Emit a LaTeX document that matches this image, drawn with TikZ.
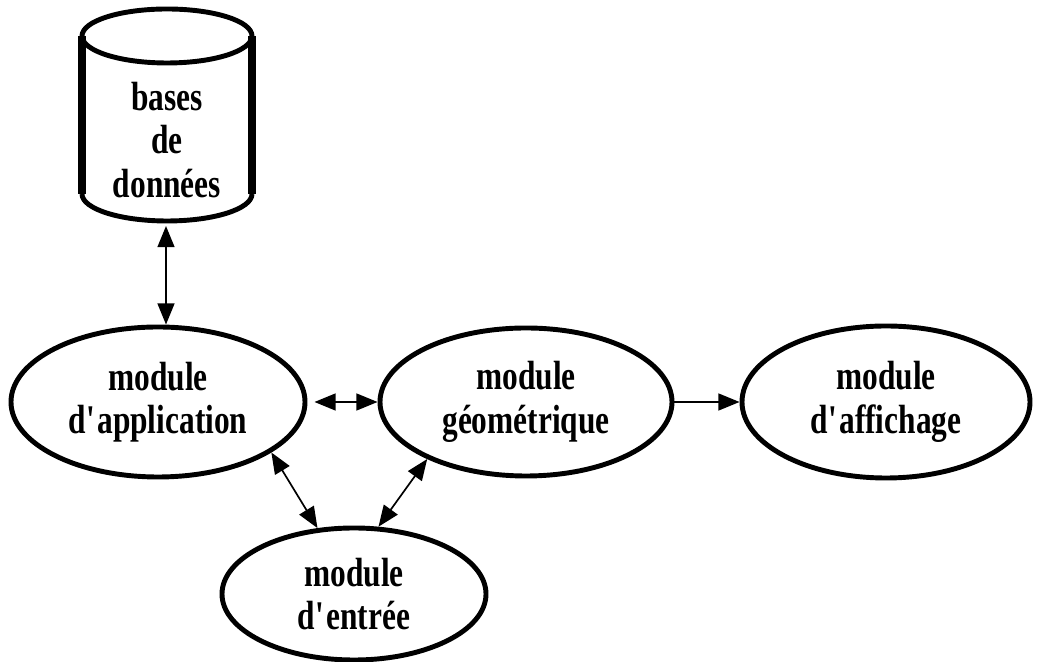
\documentclass[tikz,border=0pt]{standalone}
\usepackage{fontspec}
\setmainfont{Liberation Serif}[FakeStretch=0.77]
\usetikzlibrary{shapes.geometric,arrows.meta}

\begin{document}
\begin{tikzpicture}[
		module/.style={draw, ellipse, line width=3.5pt, inner sep=0pt,
			align=center, font=\bfseries\fontsize{29}{31}\selectfont},
		bord/.style={line width=3.5pt},
		lien/.style={line width=1.2pt, {Triangle[length=15pt,width=12pt]}-{Triangle[length=15pt,width=12pt]}},
		sens/.style={line width=1.2pt, -{Triangle[length=15pt,width=12pt]}}
	]
		\useasboundingbox (0,0) rectangle (25.975,16.55);

		% le cylindre de la base de donnees
		\draw[bord] (4.175,15.65) ellipse[x radius=2.125cm, y radius=0.675cm];
		\draw[bord] (2.05,11.7) arc[start angle=180, end angle=360,
			x radius=2.125cm, y radius=0.675cm];
		\draw[line width=5.5pt] (2.05,15.65) -- (2.05,11.7)
			(6.3,15.65) -- (6.3,11.7);
		\node[align=center, font=\bfseries\fontsize{29}{31}\selectfont]
		(bdd) at (4.175,13.05) {bases\\de\\données};
		\coordinate (bdd bas) at (4.15,10.9);

		\node[module, minimum width=7.35cm, minimum height=3.75cm]
		(app) at (3.95,6.5) {module\\d\textquotesingle application};
		\node[module, minimum width=7.3cm, minimum height=3.7cm]
		(geo) at (13.15,6.5) {module\\géométrique};
		\node[module, minimum width=7.2cm, minimum height=3.8cm]
		(aff) at (22.15,6.5) {module\\d\textquotesingle affichage};
		\node[module, minimum width=6.6cm, minimum height=3.3cm]
		(ent) at (8.85,1.7) {module\\d\textquotesingle entrée};

		\draw[lien] (bdd bas) -- (bdd bas |- app.north);
		\draw[lien] ([xshift=5pt]app.east) -- (geo.west);
		\draw[sens] (geo.east) -- (aff.west);
		\draw[lien] (app.-24) -- (ent.119);
		\draw[lien] (geo.210) -- (ent.70);
	\end{tikzpicture}
\end{document}
